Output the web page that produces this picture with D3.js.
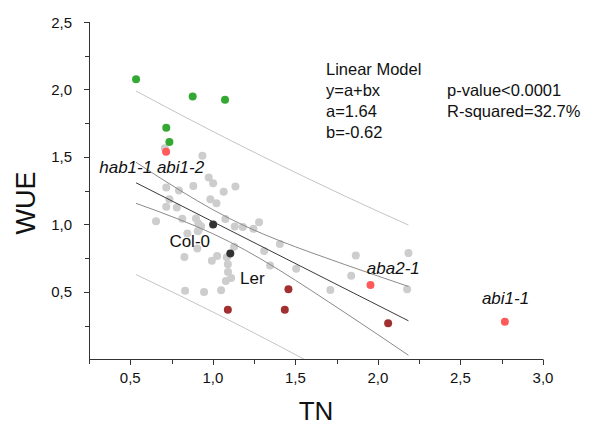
<!DOCTYPE html>
<html><head><meta charset="utf-8">
<script src="https://cdn.jsdelivr.net/npm/d3@7"></script>
<style>
body{margin:0;background:#fff}
svg{display:block}
text{font-family:"Liberation Sans",Arial,sans-serif;fill:#111}
</style>
</head><body>
<svg id="c" width="590" height="426"></svg>
<script>
// ---- data ----
const grayTN  = [0.937,0.718,0.795,0.882,0.975,1.002,1.066,1.137,0.737,0.718,0.782,0.985,1.022,0.656,0.815,0.898,0.929,0.909,0.846,1.076,1.133,1.182,1.246,1.280,0.906,0.828,1.026,0.994,1.085,1.129,1.091,1.092,1.111,1.079,1.311,1.406,1.347,1.505,1.712,0.832,0.947,1.050,0.709,1.866,2.185,1.838,2.177,0.912,0.915];
const grayWUE = [1.508,1.274,1.252,1.284,1.348,1.304,1.241,1.281,1.187,1.130,1.126,1.187,1.156,1.024,1.041,1.044,0.987,0.950,0.933,1.039,0.985,0.980,0.967,1.015,0.822,0.758,0.765,0.730,0.756,0.834,0.704,0.647,0.602,0.580,0.802,0.854,0.696,0.671,0.513,0.508,0.499,0.511,1.565,0.770,0.787,0.619,0.519,1.007,0.958];
const blackTN  = [1.002,1.106];
const blackWUE = [1.000,0.785];
const greenTN  = [0.535,0.878,1.074,0.718,0.737];
const greenWUE = [2.076,1.948,1.923,1.716,1.610];
const redTN  = [0.717,1.955,2.769];
const redWUE = [1.538,0.550,0.279];
const darkRedTN  = [1.091,1.436,1.458,2.062];
const darkRedWUE = [0.367,0.367,0.519,0.267];

// regression line y = a + b x and its bands
const fitA = 1.64, fitB = -0.62;
const fitRange = [0.535, 2.185];
const bandX      = [0.535,0.8,1.0,1.2,1.4,1.6,1.8,2.0,2.185];
const confUpper  = [1.460,1.253,1.109,0.985,0.881,0.789,0.702,0.617,0.540];
const confLower  = [1.156,1.035,0.931,0.807,0.663,0.507,0.346,0.183,0.030];
const predUpper  = [1.988,1.816,1.689,1.565,1.444,1.326,1.210,1.097,0.995];
const predLower  = [0.628,0.472,0.351,0.227,0.100,-0.030,-0.162,-0.297,-0.425];

// point labels
const labelText = ["hab1-1 abi1-2","Col-0","Ler","aba2-1","abi1-1"];
const labelTN   = [0.312,0.737,1.165,1.933,2.630];
const labelWUE  = [1.382,0.834,0.560,0.632,0.407];
const labelItalic = [true,false,false,true,true];

// axes
const xMajor = [0.5,1.0,1.5,2.0,2.5,3.0];
const xMajorLabels = ["0,5","1,0","1,5","2,0","2,5","3,0"];
const xMinor = [0.25,0.75,1.25,1.75,2.25,2.75];
const yMajor = [0.5,1.0,1.5,2.0,2.5];
const yMajorLabels = ["0,5","1,0","1,5","2,0","2,5"];
const yMinor = [0.25,0.75,1.25,1.75,2.25];

const statsLeft  = ["Linear Model","y=a+bx","a=1.64","b=-0.62"];
const statsRight = ["","p-value<0.0001","R-squared=32.7%",""];

// ---- drawing ----
const svg = d3.select("#c");
const x = d3.scaleLinear().domain([0.25,3.0]).range([89,543]);
const y = d3.scaleLinear().domain([0,2.5]).range([359.3,22]);

svg.append("defs").append("clipPath").attr("id","plot")
  .append("rect").attr("x",89).attr("y",22).attr("width",454).attr("height",337.3);

function dots(xs, ys, color){
  svg.append("g").selectAll("circle").data(xs).join("circle")
    .attr("cx",(d)=>x(d)).attr("cy",(d,i)=>y(ys[i])).attr("r",4)
    .attr("fill",color);
}

dots(grayTN, grayWUE, "#cdcdcd");

const line = d3.line().x(d=>x(d[0])).y(d=>y(d[1])).curve(d3.curveMonotoneX);
const gl = svg.append("g").attr("clip-path","url(#plot)").attr("fill","none");
gl.append("path").attr("d", line(bandX.map((v,i)=>[v,predUpper[i]]))).attr("stroke","#c4c4c4").attr("stroke-width",1);
gl.append("path").attr("d", line(bandX.map((v,i)=>[v,predLower[i]]))).attr("stroke","#c4c4c4").attr("stroke-width",1);
gl.append("path").attr("d", line(bandX.map((v,i)=>[v,confUpper[i]]))).attr("stroke","#8a8a8a").attr("stroke-width",1);
gl.append("path").attr("d", line(bandX.map((v,i)=>[v,confLower[i]]))).attr("stroke","#8a8a8a").attr("stroke-width",1);
gl.append("path").attr("d", d3.line().x(d=>x(d)).y(d=>y(fitA+fitB*d))(fitRange)).attr("stroke","#3a3a3a").attr("stroke-width",1);

dots(blackTN, blackWUE, "#333333");
dots(greenTN, greenWUE, "#33a833");
dots(redTN, redWUE, "#ff5b5b");
dots(darkRedTN, darkRedWUE, "#a33030");

// labels
svg.append("g").selectAll("text").data(labelText).join("text")
  .attr("x",(d,i)=>x(labelTN[i])).attr("y",(d,i)=>y(labelWUE[i]))
  .attr("font-size",17).attr("font-style",(d,i)=>labelItalic[i]?"italic":"normal")
  .text(d=>d);

// axes
const ax = svg.append("g").attr("stroke","#333").attr("stroke-width",1);
ax.append("line").attr("x1",89).attr("x2",543).attr("y1",359.5).attr("y2",359.5);
ax.append("line").attr("x1",89.5).attr("x2",89.5).attr("y1",22).attr("y2",359.5);
ax.selectAll(".xt").data(xMajor.concat(xMinor)).join("line")
  .attr("x1",d=>Math.round(x(d))+0.5).attr("x2",d=>Math.round(x(d))+0.5)
  .attr("y1",359.5).attr("y2",(d)=>xMajor.includes(d)?365:364);
ax.selectAll(".yt").data(yMajor.concat(yMinor)).join("line")
  .attr("y1",d=>Math.round(y(d))+0.5).attr("y2",d=>Math.round(y(d))+0.5)
  .attr("x1",89.5).attr("x2",(d)=>yMajor.includes(d)?84:85);

svg.append("g").selectAll("text").data(xMajor).join("text")
  .attr("x",d=>x(d)).attr("y",383).attr("text-anchor","middle")
  .attr("font-size",15).text((d,i)=>xMajorLabels[i]);
svg.append("g").selectAll("text").data(yMajor).join("text")
  .attr("x",72).attr("y",d=>y(d)+5.5).attr("text-anchor","end")
  .attr("font-size",15).text((d,i)=>yMajorLabels[i]);

svg.append("text").attr("x",316).attr("y",420).attr("text-anchor","middle")
  .attr("font-size",26).text("TN");
svg.append("text").attr("transform","translate(35,203) rotate(-90)").attr("text-anchor","middle")
  .attr("font-size",27).text("WUE");

// stats annotation
const base = [75,96,117,137.5];
svg.append("g").selectAll("text").data(statsLeft).join("text")
  .attr("x",326).attr("y",(d,i)=>base[i]).attr("font-size",16.5).text(d=>d);
svg.append("g").selectAll("text").data(statsRight).join("text")
  .attr("x",447).attr("y",(d,i)=>base[i]).attr("font-size",16.5).text(d=>d);
</script>
</body></html>
